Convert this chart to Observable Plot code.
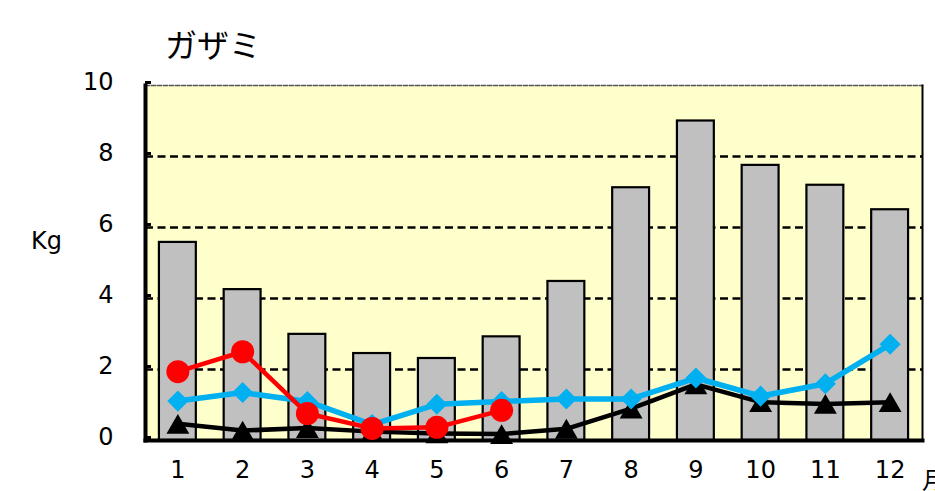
<!DOCTYPE html>
<html>
<head>
<meta charset="utf-8">
<script src="https://cdn.jsdelivr.net/npm/d3@7"></script>
<script src="https://cdn.jsdelivr.net/npm/@observablehq/plot@0.6"></script>
<style>
  body { margin: 0; background: #fff; overflow: hidden; }
  #wrap { position: relative; width: 935px; height: 491px; }
  .lbl { position: absolute; line-height: 1; white-space: nowrap; color: #000; }
  #title { left: 165px; top: 20px; font: 32px "Noto Sans CJK JP", sans-serif; }
  #ylab { left: 31px; top: 227px; font: 24px "DejaVu Sans", sans-serif; }
  #xlab { left: 922px; top: 461px; font: 24px "Noto Sans CJK JP", sans-serif; }
</style>
</head>
<body>
<div id="wrap"></div>
<script>
const months = [1, 2, 3, 4, 5, 6, 7, 8, 9, 10, 11, 12];
const barValues = [5.58, 4.25, 2.99, 2.45, 2.31, 2.92, 4.48, 7.12, 9.0, 7.75, 7.19, 6.5];
const redMonths = [1, 2, 3, 4, 5, 6];
const redValues = [1.94, 2.5, 0.76, 0.34, 0.37, 0.85];
const blueValues = [1.11, 1.35, 1.1, 0.45, 1.02, 1.1, 1.17, 1.17, 1.76, 1.25, 1.6, 2.71];
const blackValues = [0.47, 0.28, 0.35, 0.25, 0.2, 0.18, 0.33, 0.9, 1.58, 1.08, 1.03, 1.08];
const yTicks = [0, 2, 4, 6, 8, 10];
const gridTicks = [2, 4, 6, 8];
const titleText = "ガザミ";
const yLabelText = "Kg";
const xLabelText = "月";

const bars = months.map((m, i) => ({ month: m, value: barValues[i] }));
const red = redMonths.map((m, i) => ({ month: m, value: redValues[i] }));
const blue = months.map((m, i) => ({ month: m, value: blueValues[i] }));
const black = months.map((m, i) => ({ month: m, value: blackValues[i] }));

const chart = Plot.plot({
  width: 935,
  height: 491,
  marginLeft: 145,
  marginRight: 13,
  marginTop: 85,
  marginBottom: 51,
  style: { fontFamily: "'DejaVu Sans', sans-serif", fontSize: "24px", background: "transparent", color: "#000" },
  x: { type: "band", domain: months, paddingInner: 0.43, paddingOuter: 0.215, round: false, label: null },
  y: { domain: [0, 10], label: null },
  marks: [
    Plot.frame({ fill: "#FFFFCC", stroke: null }),
    Plot.ruleY(gridTicks, { stroke: "#000", strokeWidth: 2.5, strokeDasharray: "8,4.5" }),
    Plot.frame({ anchor: "top", stroke: "#555", strokeWidth: 1.5, strokeDasharray: "4,2" }),
    Plot.barY(bars, { x: "month", y: "value", fill: "#C0C0C0", stroke: "#000", strokeWidth: 2.2 }),
    Plot.frame({ anchor: "right", stroke: "#000", strokeWidth: 2 }),
    Plot.frame({ anchor: "left", stroke: "#000", strokeWidth: 4 }),
    Plot.frame({ anchor: "bottom", stroke: "#000", strokeWidth: 4 }),
    Plot.axisY(yTicks, { tickSize: -6, tickPadding: 38, strokeWidth: 3, dy: -3, fontSize: 24 }),
    Plot.axisX(months, { tickSize: 0, tickPadding: 20, fontSize: 24 }),
    Plot.line(black, { x: "month", y: "value", stroke: "#000", strokeWidth: 4.5 }),
    Plot.dot(black, { x: "month", y: "value", symbol: "triangle", r: 8.5, fill: "#000", stroke: null, dy: 3.3 }),
    Plot.line(blue, { x: "month", y: "value", stroke: "#00B0F0", strokeWidth: 5.5 }),
    Plot.dot(blue, { x: "month", y: "value", symbol: "diamond2", r: 9.5, fill: "#00B0F0", stroke: null }),
    Plot.line(red, { x: "month", y: "value", stroke: "#FF0000", strokeWidth: 4.5 }),
    Plot.dot(red, { x: "month", y: "value", symbol: "circle", r: 11.5, fill: "#FF0000", stroke: null })
  ]
});

const wrap = document.getElementById("wrap");
wrap.appendChild(chart);
for (const [id, txt] of [["title", titleText], ["ylab", yLabelText], ["xlab", xLabelText]]) {
  const d = document.createElement("div");
  d.className = "lbl";
  d.id = id;
  d.textContent = txt;
  wrap.appendChild(d);
}
</script>
</body>
</html>
